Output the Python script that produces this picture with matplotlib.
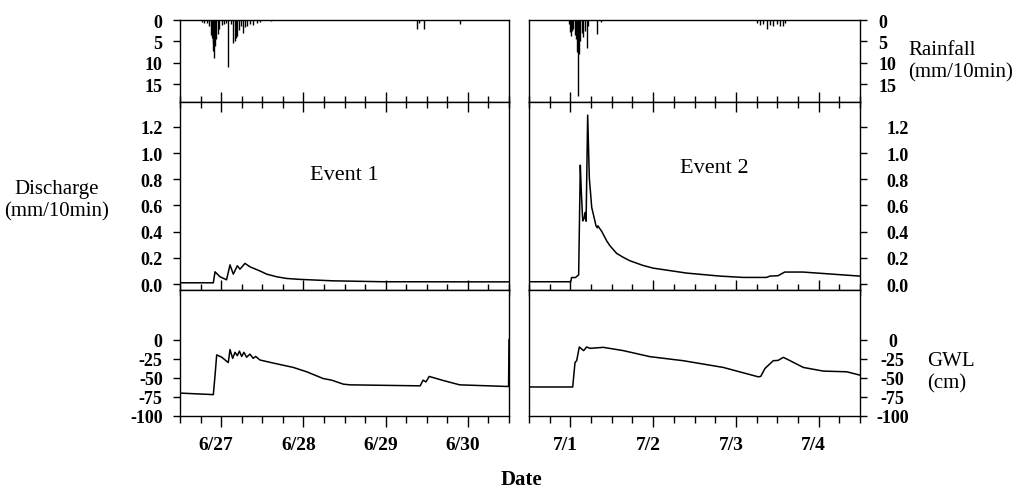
import matplotlib.pyplot as plt
import matplotlib.transforms as mtransforms
from matplotlib.ticker import MultipleLocator

plt.rcParams['font.family'] = 'Liberation Serif'
plt.rcParams['font.weight'] = 'bold'
plt.rcParams['axes.unicode_minus'] = False

# time axis: days counted from May 31 (6/27 -> 27, 7/1 -> 31)
day_ticks_1 = [27, 28, 29, 30]
day_labels_1 = ['6/27', '6/28', '6/29', '6/30']
day_ticks_2 = [31, 32, 33, 34]
day_labels_2 = ['7/1', '7/2', '7/3', '7/4']

# rainfall (mm/10min)
rain1_t = [26.764, 26.792, 26.824, 26.857, 26.873, 26.885, 26.897, 26.905, 26.917, 26.929,
           26.941, 26.958, 26.978, 27.006, 27.035, 27.059, 27.087, 27.116, 27.148, 27.164,
           27.18, 27.197, 27.213, 27.237, 27.261, 27.286, 27.318, 27.351, 27.391, 27.432,
           27.473, 27.602, 29.378, 29.402, 29.47, 29.904]
rain1_v = [0.5, 0.8, 0.6, 1.5, 3.5, 4.2, 5.5, 7.3, 9.0, 6.0,
           4.5, 3.2, 2.0, 1.2, 1.0, 0.8, 11.0, 0.9, 5.3, 5.0,
           4.3, 3.7, 2.4, 1.4, 3.0, 1.7, 1.4, 1.0, 1.2, 0.6,
           0.5, 0.3, 2.0, 0.6, 2.2, 1.0]
rain2_t = [30.988, 31.0, 31.012, 31.024, 31.036, 31.052, 31.068, 31.08, 31.096, 31.108,
           31.12, 31.136, 31.153, 31.173, 31.197, 31.217, 31.326, 31.366, 33.252, 33.292,
           33.332, 33.373, 33.413, 33.453, 33.493, 33.534, 33.574, 33.594]
rain2_v = [1.0, 2.8, 3.8, 2.5, 2.0, 3.5, 4.5, 7.6, 17.7, 8.0,
           5.0, 3.0, 4.0, 2.5, 6.5, 1.5, 3.3, 0.4, 0.7, 1.1,
           0.9, 2.2, 1.2, 1.4, 1.0, 1.3, 1.5, 0.8]

# discharge (mm/10min)
q1_t = [26.5, 26.905, 26.926, 26.986, 27.066, 27.108, 27.148, 27.197, 27.229, 27.29,
        27.351, 27.473, 27.554, 27.675, 27.797, 27.96, 28.36, 28.97, 30.5]
q1_v = [0.01, 0.01, 0.094, 0.056, 0.033, 0.147, 0.076, 0.14, 0.114, 0.158,
        0.132, 0.10, 0.076, 0.056, 0.043, 0.036, 0.025, 0.018, 0.017]
q2_t = [30.5, 31.004, 31.015, 31.06, 31.1, 31.12, 31.132, 31.149, 31.165, 31.177,
        31.19, 31.209, 31.229, 31.258, 31.31, 31.325, 31.332, 31.379, 31.439, 31.479,
        31.56, 31.64, 31.72, 31.88, 32.0, 32.406, 32.81, 33.09, 33.37, 33.41,
        33.51, 33.59, 33.81, 34.5]
q2_v = [0.018, 0.018, 0.05, 0.05, 0.07, 0.908, 0.71, 0.483, 0.5, 0.547,
        0.48, 1.29, 0.81, 0.585, 0.445, 0.43, 0.445, 0.402, 0.33, 0.292,
        0.234, 0.204, 0.178, 0.142, 0.122, 0.084, 0.061, 0.051, 0.051, 0.061,
        0.064, 0.092, 0.092, 0.061]

# groundwater level (cm)
g1_t = [26.5, 26.905, 26.926, 26.946, 27.007, 27.087, 27.108, 27.14, 27.169, 27.197,
        27.222, 27.25, 27.277, 27.31, 27.35, 27.39, 27.42, 27.473, 27.635, 27.878,
        28.04, 28.24, 28.345, 28.486, 28.567, 29.42, 29.455, 29.49, 29.53, 29.7,
        29.9, 30.495, 30.5]
g1_v = [-70, -72, -47, -20, -23, -30, -13, -24.5, -16.6, -21,
        -15, -22, -16.6, -23, -19, -24.5, -22, -26.7, -30.7, -36.4,
        -42.1, -50.9, -53.1, -58.3, -59.2, -60.5, -53.1, -55.3, -48.2, -53.5,
        -59.2, -61.4, 0]
g2_t = [30.5, 31.028, 31.056, 31.076, 31.108, 31.136, 31.16, 31.197, 31.237, 31.398,
        31.64, 31.962, 32.365, 32.848, 33.27, 33.3, 33.352, 33.452, 33.51, 33.573,
        33.63, 33.815, 34.057, 34.34, 34.5]
g2_v = [-62, -62, -30, -27.6, -9.6, -12.2, -14.4, -9.6, -11.4, -10.1,
        -14.4, -22.3, -27.6, -36.4, -48.7, -48.2, -37.7, -27.6, -27.2, -23.2,
        -26.2, -36.4, -41.2, -42.1, -46.5]

rain_ticks = [0, 5, 10, 15]
q_ticks = [0.0, 0.2, 0.4, 0.6, 0.8, 1.0, 1.2]
g_ticks = [0, -25, -50, -75, -100]

W, H = 1015, 489
fig = plt.figure(figsize=(W / 100, H / 100), dpi=100)


def box(x0, x1, y0, y1):
    return [x0 / W, 1 - y1 / H, (x1 - x0) / W, (y1 - y0) / H]


cols = [(180, 509), (529, 860)]
rows = [(21, 103), (103, 291), (291, 417)]
events = [
    (26.5, 30.5, day_ticks_1, day_labels_1, rain1_t, rain1_v, q1_t, q1_v, g1_t, g1_v, 'Event 1', (0.498, 0.615)),
    (30.5, 34.5, day_ticks_2, day_labels_2, rain2_t, rain2_v, q2_t, q2_v, g2_t, g2_v, 'Event 2', (0.56, 0.652)),
]

for i, (x0, x1, dticks, dlabels, rt, rv, qt, qv, gt, gv, name, pos) in enumerate(events):
    cx0, cx1 = cols[i]
    ax_r = fig.add_axes(box(cx0, cx1, *rows[0]))
    ax_q = fig.add_axes(box(cx0, cx1, *rows[1]))
    ax_g = fig.add_axes(box(cx0, cx1, *rows[2]))

    ax_r.vlines(rt, 0, rv, color='black', linewidth=1.0)
    ax_r.set_ylim(19.2, 0)
    ax_r.set_yticks(rain_ticks)

    ax_q.plot(qt, qv, color='black', linewidth=1.1)
    ax_q.set_ylim(-0.045, 1.39)
    ax_q.set_yticks(q_ticks, ['%.1f' % v for v in q_ticks])
    ax_q.text(pos[0], pos[1], name, transform=ax_q.transAxes, ha='center', va='center',
              fontsize=16, fontweight='normal')

    ax_g.plot(gt, gv, color='black', linewidth=1.1)
    ax_g.set_ylim(-100, 65)
    ax_g.set_yticks(g_ticks)

    for ax in (ax_r, ax_q, ax_g):
        ax.set_xlim(x0, x1)
        ax.xaxis.set_major_locator(MultipleLocator(1))
        ax.xaxis.set_minor_locator(MultipleLocator(0.25))
        for s in ax.spines.values():
            s.set_linewidth(1.0)
        ax.tick_params(axis='y', labelsize=13, length=5, width=1, direction='out')
        if i == 0:
            ax.tick_params(axis='y', left=True, right=False, labelleft=True, labelright=False, pad=7.5)
        else:
            ax.tick_params(axis='y', left=False, right=True, labelleft=False, labelright=True)

    ax_r.tick_params(axis='x', which='both', bottom=False, top=False, labelbottom=False)
    ax_q.tick_params(axis='x', which='both', bottom=True, top=True, labelbottom=False, direction='inout', width=1)
    ax_q.tick_params(axis='x', which='major', length=14)
    ax_q.tick_params(axis='x', which='minor', length=8)
    ax_g.tick_params(axis='x', which='both', bottom=True, top=False, direction='out', width=1)
    ax_g.tick_params(axis='x', which='major', length=8, labelsize=14, pad=6.5)
    ax_g.tick_params(axis='x', which='minor', length=5)
    ax_g.set_xticks(dticks, dlabels)

    if i == 1:
        ax_r.tick_params(axis='y', pad=8)
        ax_q.tick_params(axis='y', pad=14)
        ax_g.tick_params(axis='y', pad=18.5)
        for lab in ax_g.get_yticklabels():
            lab.set_horizontalalignment('center')

    shift = mtransforms.ScaledTranslation(-5 / 100, 0, fig.dpi_scale_trans)
    for tk in ax_g.xaxis.get_major_ticks():
        tk.label1.set_transform(tk.label1.get_transform() + shift)

fig.text(57 / W, 1 - 201 / H, 'Discharge\n(mm/10min)', ha='center', va='center',
         fontsize=15, fontweight='normal', linespacing=1.25)
fig.text(908 / W, 1 - 62 / H, 'Rainfall\n(mm/10min)', ha='left', va='center',
         fontsize=15, fontweight='normal', linespacing=1.25)
fig.text(927 / W, 1 - 373 / H, 'GWL\n(cm)', ha='left', va='center',
         fontsize=15, fontweight='normal', linespacing=1.25)
fig.text(521 / W, 1 - 480 / H, 'Date', ha='center', va='center', fontsize=15, fontweight='bold')

fig.savefig('out.png', dpi=100)
